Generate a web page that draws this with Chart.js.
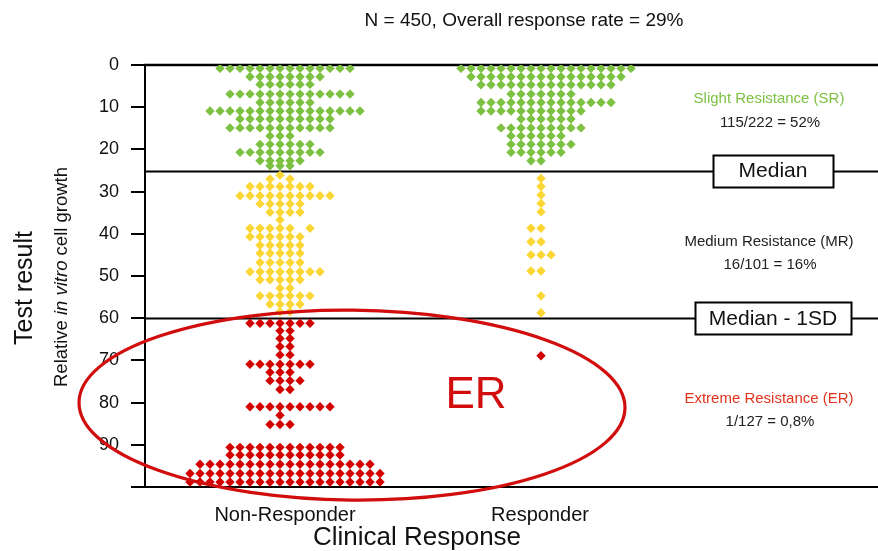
<!DOCTYPE html>
<html><head><meta charset="utf-8">
<script src="https://cdn.jsdelivr.net/npm/chart.js@4.4.0/dist/chart.umd.min.js"></script>
<style>html,body{margin:0;padding:0;background:#fff}#wrap{width:878px;height:551px}</style>
</head><body><div id="wrap"><canvas id="c" width="878" height="551"></canvas></div>
<script>
// Dot plot of the test result (relative in vitro cell growth) by clinical response.
// Each row: [test result, [firstSlot, lastSlot], ...] - slots are dot columns
// counted from the centre of the group's stack.
const categories = ['Non-Responder', 'Responder'];
const yTicks = [0, 10, 20, 30, 40, 50, 60, 70, 80, 90, 100];
const cutoffs = [25, 60];          // Median, Median - 1SD
const cutoffNames = ['Median', 'Median - 1SD'];

const srNonResponder = [
  [0.8, [-6, 7]], [2.8, [-3, 4]], [4.6, [-2, 3]], [6.9, [-5, 7]], [8.9, [-2, 3]],
  [10.9, [-7, 8]], [12.8, [-4, 5]], [14.9, [-5, 5]], [16.8, [-1, 1]], [18.8, [-2, 3]],
  [20.7, [-4, 4]], [22.7, [-2, 2]], [23.9, [-1, 1]]
];
const srResponder = [
  [0.8, [-8, 9]], [2.8, [-7, 8]], [4.7, [-6, 7]], [6.9, [-3, 3]], [8.9, [-6, 7]],
  [10.9, [-6, 4]], [12.8, [-2, 3]], [14.9, [-4, 4]], [16.8, [-3, 2]], [18.8, [-3, 3]],
  [20.7, [-3, 2]], [22.7, [-1, 0]]
];
const mrNonResponder = [
  [26.1, [0, 0]], [27.0, [-1, -1], [1, 1]], [28.8, [-3, 3]], [31.0, [-4, 5]],
  [32.9, [-2, 2]], [34.9, [-1, 2]], [36.7, [0, 0]], [38.7, [-3, 1], [3, 3]],
  [40.7, [-3, 2]], [42.7, [-2, 2]], [44.6, [-2, 2]], [46.8, [-2, 2]], [49.0, [-3, 4]],
  [50.9, [-2, 2]], [52.9, [0, 1]], [54.7, [-2, 3]], [56.7, [-1, 2]], [58.5, [0, 1]]
];
const mrResponder = [
  [26.9, [0, 0]], [28.8, [0, 0]], [30.8, [0, 0]], [32.8, [0, 0]], [34.8, [0, 0]],
  [38.7, [-1, 0]], [41.9, [-1, 0]], [45.0, [-1, 1]], [48.8, [-1, 0]],
  [54.7, [0, 0]], [58.7, [0, 0]]
];
const erNonResponder = [
  [61.2, [-3, 3]], [63.0, [0, 1]], [64.8, [0, 1]], [66.7, [0, 1]], [68.7, [0, 1]],
  [70.9, [-3, 3]], [72.8, [-1, 1]], [74.8, [-1, 2]], [76.9, [0, 1]], [81.0, [-3, 5]],
  [83.0, [0, 0]], [85.2, [-1, 1]], [90.6, [-5, 6]], [92.4, [-5, 6]], [94.6, [-8, 9]],
  [96.8, [-9, 10]], [98.8, [-9, 10]]
];
const erResponder = [
  [68.9, [0, 0]]
];

const groupNames = ['Slight Resistance (SR)', 'Medium Resistance (MR)', 'Extreme Resistance (ER)'];
const groupRates = ['115/222 = 52%', '16/101 = 16%', '1/127 = 0,8%'];
const titleText = 'N = 450, Overall response rate = 29%';

// x positions (in dot columns) of the two stacks and their axis labels
const stackCentre = [13.5, 39.6];
const labelPos = [14, 39.5];
const COL_PX = 10;                 // width of one dot column

const GREEN = '#7cc142', YELLOW = '#fbd634', RED = '#d30000';
const FONT = '"Liberation Sans", Arial, sans-serif';

function expand(rows, centre) {
  const pts = [];
  rows.forEach(([v, ...segs]) => segs.forEach(([a, b]) => {
    for (let c = a; c <= b; c++) pts.push({ x: centre + c, y: v });
  }));
  return pts;
}

const dotStyle = { pointStyle: 'rectRot', pointRadius: 4.7, pointHoverRadius: 4.7, borderWidth: 0, showLine: false };

const decor = {
  id: 'decor',
  // keep one dot column equal to COL_PX pixels whatever width the plot area ends up with
  afterLayout(chart) {
    const s = chart.scales.x;
    s.max = s.min + s.width / COL_PX;
    s.configure();
  },
  beforeDatasetsDraw(chart) {
    const { ctx, chartArea: a, scales: { y } } = chart;
    const right = chart.width;
    ctx.save();
    ctx.strokeStyle = '#000';
    ctx.lineWidth = 2.5;
    let py = y.getPixelForValue(0);
    ctx.beginPath(); ctx.moveTo(a.left - 1, py); ctx.lineTo(right, py); ctx.stroke();
    // x axis line
    py = Math.round(y.getPixelForValue(100));
    ctx.lineWidth = 2;
    ctx.beginPath(); ctx.moveTo(a.left - 1, py); ctx.lineTo(right, py); ctx.stroke();
    cutoffs.forEach(v => {
      const p = Math.round(y.getPixelForValue(v)) + 0.5;
      ctx.beginPath(); ctx.moveTo(a.left, p); ctx.lineTo(right, p); ctx.stroke();
    });
    ctx.restore();
  },
  afterDatasetsDraw(chart) {
    const { ctx, scales: { x, y } } = chart;
    ctx.save();
    // ER ellipse
    const cx = x.getPixelForValue(20.7), cy = y.getPixelForValue(80.6);
    const rx = x.getPixelForValue(20.7 + 27.3) - cx, ry = y.getPixelForValue(80.6 + 22.5) - cy;
    ctx.strokeStyle = '#d10d0d';
    ctx.lineWidth = 3.2;
    ctx.beginPath(); ctx.ellipse(cx, cy, rx, ry, 0.01, 0, Math.PI * 2); ctx.stroke();
    ctx.fillStyle = '#d10d0d';
    ctx.font = '44px ' + FONT;
    ctx.textAlign = 'center'; ctx.textBaseline = 'middle';
    ctx.fillText('ER', x.getPixelForValue(33.1), y.getPixelForValue(78.5));

    // cutoff boxes
    const boxW = [120, 156];
    ctx.font = '21px ' + FONT;
    cutoffs.forEach((v, i) => {
      const bx = x.getPixelForValue(62.8), by = y.getPixelForValue(v);
      const w = boxW[i], h = 32;
      ctx.fillStyle = '#fff';
      ctx.fillRect(bx - w / 2, by - h / 2, w, h);
      ctx.strokeStyle = '#000'; ctx.lineWidth = 2;
      ctx.strokeRect(Math.round(bx - w / 2) + 0.5, Math.round(by - h / 2) + 0.5, w, h);
      ctx.fillStyle = '#111';
      ctx.fillText(cutoffNames[i], bx, by + 1);
    });

    // group annotations
    const nameY = [8.1, 41.9, 79.1], rateY = [13.6, 47.4, 84.6];
    const nameCol = [GREEN, '#222', '#e0321c'];
    ctx.font = '15px ' + FONT;
    groupNames.forEach((t, i) => {
      ctx.fillStyle = nameCol[i];
      ctx.fillText(t, x.getPixelForValue(62.4), y.getPixelForValue(nameY[i]));
      ctx.fillStyle = '#222';
      ctx.fillText(groupRates[i], x.getPixelForValue(62.5), y.getPixelForValue(rateY[i]));
    });
    ctx.restore();
  },
  afterDraw(chart) {
    const { ctx } = chart;
    ctx.save();
    ctx.fillStyle = '#111';
    ctx.textAlign = 'center'; ctx.textBaseline = 'middle';
    ctx.font = '19px ' + FONT;
    ctx.fillText(titleText, 524, 21);
    ctx.font = '26px ' + FONT;
    ctx.fillText('Clinical Response', 417, 538);

    ctx.translate(25, 288);
    ctx.rotate(-Math.PI / 2);
    ctx.font = '25px ' + FONT;
    ctx.fillText('Test result', 0, 0);
    ctx.restore();

    // rotated subtitle with italic "in vitro"
    ctx.save();
    ctx.translate(62, 277);
    ctx.rotate(-Math.PI / 2);
    ctx.fillStyle = '#111';
    ctx.textBaseline = 'middle'; ctx.textAlign = 'left';
    const parts = [['Relative ', ''], ['in vitro', 'italic '], [' cell growth', '']];
    const size = 18.5;
    let total = 0;
    parts.forEach(([t, s]) => { ctx.font = s + size + 'px ' + FONT; total += ctx.measureText(t).width; });
    let px = -total / 2;
    parts.forEach(([t, s]) => {
      ctx.font = s + size + 'px ' + FONT;
      ctx.fillText(t, px, 0);
      px += ctx.measureText(t).width;
    });
    ctx.restore();
  }
};

new Chart(document.getElementById('c'), {
  type: 'scatter',
  data: {
    datasets: [
      { data: expand(srNonResponder, stackCentre[0]).concat(expand(srResponder, stackCentre[1])), backgroundColor: GREEN, ...dotStyle },
      { data: expand(mrNonResponder, stackCentre[0]).concat(expand(mrResponder, stackCentre[1])), backgroundColor: YELLOW, ...dotStyle },
      { data: expand(erNonResponder, stackCentre[0]).concat(expand(erResponder, stackCentre[1])), backgroundColor: RED, ...dotStyle }
    ]
  },
  options: {
    responsive: false,
    animation: false,
    events: [],
    layout: { padding: { top: 65, right: 0, left: 0, bottom: 0 } },
    plugins: { legend: { display: false }, tooltip: { enabled: false }, title: { display: false } },
    scales: {
      x: {
        type: 'linear', min: 0, max: 73.3,
        afterFit(s) { s.height = 64; },
        afterBuildTicks(s) { s.ticks = labelPos.map(v => ({ value: v })); },
        grid: { display: true, drawOnChartArea: false, drawTicks: false },
        border: { display: false },
        ticks: {
          padding: 16, color: '#111', font: { family: FONT, size: 20 }, maxRotation: 0, autoSkip: false,
          callback: (v, i) => categories[i]
        }
      },
      y: {
        type: 'linear', min: 0, max: 100, reverse: true,
        afterFit(s) { s.width = 145; },
        afterBuildTicks(s) { s.ticks = yTicks.map(v => ({ value: v })); },
        grid: { display: true, drawOnChartArea: false, drawTicks: true, tickLength: 14, color: '#000', lineWidth: 2 },
        border: { display: true, color: '#000', width: 2 },
        ticks: {
          padding: 12, color: '#111', font: { family: FONT, size: 18 }, autoSkip: false,
          callback: v => (v === 100 ? '' : v)
        }
      }
    }
  },
  plugins: [decor]
});
</script>
</body></html>
